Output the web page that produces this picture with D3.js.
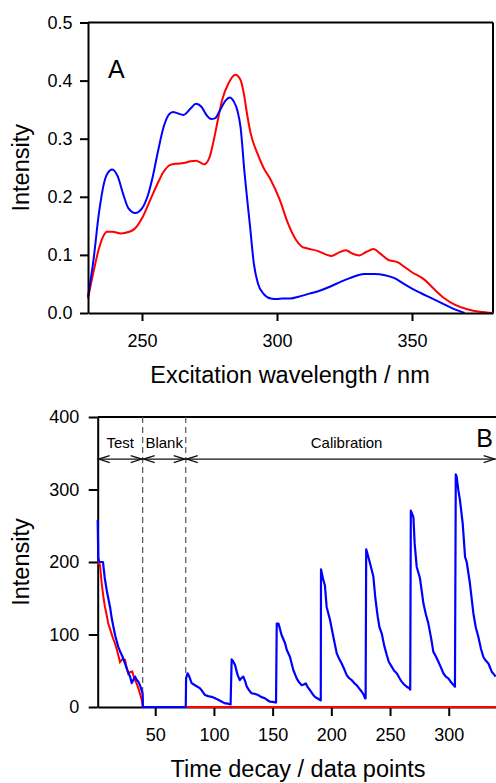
<!DOCTYPE html>
<html>
<head>
<meta charset="utf-8">
<script src="https://cdn.jsdelivr.net/npm/d3@7"></script>
<style>
  html, body { margin: 0; padding: 0; background: #fff; }
  svg { display: block; }
  text { font-family: "Liberation Sans", Arial, Helvetica, sans-serif; fill: #000; }
</style>
</head>
<body>
<svg id="chart" width="496" height="783"></svg>
<script>
// ---------- Panel A data (excitation spectra) ----------
const wlBlueA = [230,232,234,236,238,239,241,243,245,247.5,250,252,254,256,258,260,261.5,263,265.4,268,270,272,274,275.6,277,279,281,282.5,284,285.3,286.5,288,289,290,291.4,293,295,297.7,300,302,305,308,311,315,320,323.7,327,330,332.3,336,340,343.5,347,350,353.4,357,361,365,369.5];
const intBlueA = [0.028,0.09,0.17,0.225,0.245,0.247,0.235,0.205,0.18,0.172,0.18,0.2,0.235,0.28,0.32,0.342,0.346,0.344,0.341,0.352,0.36,0.355,0.34,0.334,0.335,0.35,0.366,0.371,0.364,0.349,0.32,0.24,0.194,0.15,0.086,0.05,0.033,0.025,0.024,0.025,0.025,0.028,0.032,0.037,0.046,0.054,0.06,0.065,0.067,0.067,0.065,0.06,0.05,0.042,0.034,0.026,0.017,0.008,0.0];
const wlRedA = [230,232,234,236,237,239,242,244,247.5,250,253,256,258,260.5,263,265.4,268,270,272,273,275,276.6,278,279.7,282,284.6,286.5,287.7,289,290.2,292.7,295,297.7,301,304,307,309,311.3,315,318,320.2,322.5,325.5,328,330.5,333,335.8,338,341,344.8,347,349.7,354.7,358,362.1,366,370.8,375,380];
const intRedA = [0.025,0.07,0.11,0.135,0.14,0.14,0.137,0.138,0.146,0.163,0.194,0.225,0.243,0.255,0.257,0.258,0.261,0.262,0.258,0.256,0.268,0.298,0.33,0.367,0.395,0.41,0.401,0.378,0.34,0.31,0.275,0.25,0.229,0.195,0.155,0.126,0.115,0.111,0.107,0.101,0.098,0.103,0.108,0.102,0.099,0.105,0.11,0.103,0.092,0.087,0.08,0.071,0.057,0.042,0.025,0.014,0.006,0.002,0.0];
const ticksXA = [250, 300, 350];
const ticksYA = [0, 0.1, 0.2, 0.3, 0.4, 0.5];

// ---------- Panel B data (time decay) ----------
const tBlueB = [1,1.5,2.5,5.5,7,8.7,10,11.5,13,14.3,16,18.5,20,22,24.3,26,28.5,30,31.5,32.8,34,35.6,37,38.5,39.3,39.5,76,
  76.3,77.6,79,81,83.9,86,88,90,92.4,95,98,101,103.7,106,109.4,111,113.7,114.2,
  115.1,116,118,120,122,123.5,125,126.5,128,130,132,135,137.8,140,143.5,145,147.8,150,152.5,152.9,
  153.5,155,157.7,160.6,162,164.8,167.6,170.5,172.5,174.8,176.5,178.2,180,181.8,184,186,188,190.4,191,
  191.2,193.2,194.5,196,198.9,201.7,204.6,206.5,208.8,211,213.1,215,217.4,219.5,221.6,224,225.9,227.5,228.7,229.2,
  229.7,231,233,235.8,237.5,239.5,241,242.9,245,247.2,249,251.4,253.5,255.7,258,259.9,262,264.2,266.4,267.2,
  267.7,269.9,271,272.7,275.5,277,278.4,280.5,282.6,285,286.9,289,291.2,293.5,295.4,297.5,299.7,302,304.8,305.3,
  306,306.7,308.2,309.6,311.9,313.9,315.3,318,321,323,325.2,327.5,329.5,331.5,333.8,336.6,338.5,340];
const vBlueB = [258,205,200,200,178,161,150,138,122,111,98,83,77,70,60,52,42,33,38,42,38,35,30,23,18,0,0,
  40,46.5,42,33,30,28,26,22,16.5,15,14,12,10,8,5,5,3.7,3.5,
  65.7,64,58,45,37,40,42,36,28,23,19,18,16.5,14,12,10,7.3,7,6.5,6,
  115,115,99,88,79,69,51,39.5,34,30,31,32.6,27,23.4,18,14,12,9.7,9,
  190,175,168,138,120,97,74,67,60,52,44,40,37,33,30,25,21,17,12,12,
  217.5,210,198,180,150,124.6,110,101.6,85,71.7,62,55.6,50,46.5,40,35,31,28,25.8,24,
  270.8,262,225,193.5,177.5,160,143,128,115.4,95,76,70,62.5,54,46.5,42,39.6,34,29,28,
  321,318,299,285,253,207,200,171,129,110,97,80,69,64,60,48.7,45,42];
const tRedB = [1,2,3,4.4,6,7.2,8.5,10,12,14,15.7,17.5,20,22,24.3,25.5,27,28.5,30.5,32,34,36,38.5,39.5,340];
const vRedB = [197,200,195,171,150,138,128,115,105,95,88,78,62,66,65,55,46,48,49,40,33,24,10,0,0];
const sectionNames = ["Test", "Blank", "Calibration"];
const sectionBounds = [1, 39.3, 76, 340];
const ticksXB = [50, 100, 150, 200, 250, 300];
const ticksYB = [0, 100, 200, 300, 400];

const svg = d3.select("#chart");
const font = "'Liberation Sans', Arial, Helvetica, sans-serif";

function styleAxis(g, tickW) {
  g.select(".domain").attr("stroke", "#000").attr("stroke-width", 2);
  g.selectAll(".tick line").attr("stroke", "#000").attr("stroke-width", tickW);
  g.selectAll(".tick text").attr("font-size", 18).attr("font-family", font).attr("fill", "#000");
}

// ================= Panel A =================
const xA = d3.scaleLinear().domain([230, 380]).range([88, 493]);
const yA = d3.scaleLinear().domain([0, 0.5]).range([313, 22.5]);

const gA = svg.append("g");
gA.append("line").attr("x1", xA(230)).attr("x2", xA(380)).attr("y1", yA(0.5)).attr("y2", yA(0.5))
  .attr("stroke", "#000").attr("stroke-width", 2);
gA.append("line").attr("x1", xA(380)).attr("x2", xA(380)).attr("y1", yA(0.5)).attr("y2", yA(0))
  .attr("stroke", "#000").attr("stroke-width", 2);

const lineA = d3.line().x(d => xA(d[0])).y(d => yA(d[1])).curve(d3.curveMonotoneX);
gA.append("path").datum(wlRedA.map((w, i) => [w, intRedA[i]]))
  .attr("d", lineA).attr("fill", "none").attr("stroke", "#ff0000").attr("stroke-width", 2);
gA.append("path").datum(wlBlueA.map((w, i) => [w, intBlueA[i]]))
  .attr("d", lineA).attr("fill", "none").attr("stroke", "#0000ff").attr("stroke-width", 2);

gA.append("g").attr("transform", `translate(0,${yA(0)})`)
  .call(d3.axisBottom(xA).tickValues(ticksXA).tickSize(8).tickSizeOuter(0).tickPadding(13))
  .call(g => styleAxis(g, 2));
gA.append("g").attr("transform", `translate(${xA(230)},0)`)
  .call(d3.axisLeft(yA).tickValues(ticksYA).tickFormat(d3.format(".1f")).tickSize(8).tickSizeOuter(0).tickPadding(7.5))
  .call(g => styleAxis(g, 2));

gA.append("text").attr("x", xA(237.4)).attr("y", yA(0.405)).attr("font-size", 25).text("A");
gA.append("text").attr("x", 290).attr("y", 383).attr("text-anchor", "middle")
  .attr("font-size", 23.5).text("Excitation wavelength / nm");
gA.append("text").attr("transform", `translate(29,${(yA(0) + yA(0.5)) / 2}) rotate(-90)`)
  .attr("text-anchor", "middle").attr("font-size", 23.5).text("Intensity");

// ================= Panel B =================
const xB = d3.scaleLinear().domain([1, 340]).range([97.7, 495.7]);
const yB = d3.scaleLinear().domain([0, 400]).range([707, 417]);

const gB = svg.append("g");
gB.append("line").attr("x1", xB(1)).attr("x2", 496).attr("y1", yB(400)).attr("y2", yB(400))
  .attr("stroke", "#000").attr("stroke-width", 2);

sectionBounds.slice(1, 3).forEach(b => {
  gB.append("line").attr("x1", xB(b)).attr("x2", xB(b)).attr("y1", yB(400)).attr("y2", yB(0))
    .attr("stroke", "#555").attr("stroke-width", 1.2).attr("stroke-dasharray", "6,4");
});

gB.append("g").attr("transform", `translate(0,${yB(0)})`)
  .call(d3.axisBottom(xB).tickValues(ticksXB).tickSize(9).tickSizeOuter(0).tickPadding(12))
  .call(g => styleAxis(g, 2));
gB.append("g").attr("transform", `translate(${xB(1)},0)`)
  .call(d3.axisLeft(yB).tickValues(ticksYB).tickSize(9).tickSizeOuter(0).tickPadding(9.4))
  .call(g => styleAxis(g, 2));

const lineB = d3.line().x(d => xB(d[0])).y(d => yB(d[1]));
gB.append("path").datum(tRedB.map((t, i) => [t, vRedB[i]]))
  .attr("d", lineB).attr("fill", "none").attr("stroke", "#ff0000").attr("stroke-width", 2);
gB.append("path").datum(tBlueB.map((t, i) => [t, vBlueB[i]]))
  .attr("d", lineB).attr("fill", "none").attr("stroke", "#0000ff").attr("stroke-width", 2.2)
  .attr("stroke-linejoin", "round");

const arrowY = yB(342);
function chevron(x, dir) {
  return `M${x + dir * 11},${arrowY - 3.5}L${x},${arrowY}L${x + dir * 11},${arrowY + 3.5}`;
}
for (let i = 0; i < 3; i++) {
  const x0 = xB(sectionBounds[i]), x1 = xB(sectionBounds[i + 1]);
  gB.append("line").attr("x1", x0).attr("x2", x1).attr("y1", arrowY).attr("y2", arrowY)
    .attr("stroke", "#111").attr("stroke-width", 1.3);
  gB.append("path").attr("d", chevron(x0 + 1, 1)).attr("fill", "none").attr("stroke", "#111").attr("stroke-width", 1.3);
  gB.append("path").attr("d", chevron(x1 - 1, -1)).attr("fill", "none").attr("stroke", "#111").attr("stroke-width", 1.3);
  const cx = i < 2 ? (x0 + x1) / 2 : (x0 + xB(350)) / 2;
  gB.append("text").attr("x", cx).attr("y", arrowY - 11).attr("text-anchor", "middle")
    .attr("font-size", 15).text(sectionNames[i]);
}

gB.append("text").attr("x", xB(337.7)).attr("y", yB(359)).attr("text-anchor", "end")
  .attr("font-size", 25).text("B");
gB.append("text").attr("x", 298).attr("y", 777).attr("text-anchor", "middle")
  .attr("font-size", 23.5).text("Time decay / data points");
gB.append("text").attr("transform", `translate(29,${(yB(0) + yB(400)) / 2}) rotate(-90)`)
  .attr("text-anchor", "middle").attr("font-size", 23.5).text("Intensity");
</script>
</body>
</html>
